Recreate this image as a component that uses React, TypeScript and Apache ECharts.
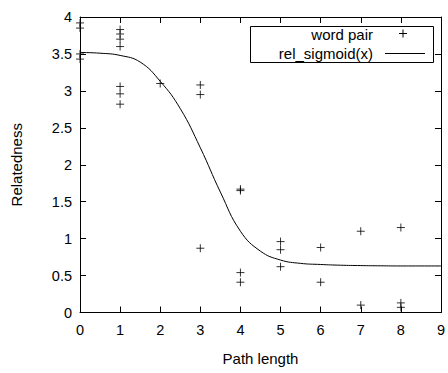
import React, { useEffect, useRef } from "react";
import * as echarts from "echarts";

const pathLength: number[] = [0, 0, 0, 0, 1, 1, 1, 1, 1, 1, 1, 2, 3, 3, 3, 4, 4, 4, 4, 5, 5, 5, 6, 6, 7, 7, 8, 8, 8];
const relatedness: number[] = [3.92, 3.85, 3.5, 3.43, 3.83, 3.77, 3.7, 3.6, 3.06, 2.96, 2.82, 3.1, 3.08, 2.95, 0.87, 1.67, 1.65, 0.54, 0.41, 0.96, 0.85, 0.62, 0.88, 0.41, 1.1, 0.1, 1.15, 0.13, 0.07];

const curveX: number[] = [0, 0.5, 1, 1.5, 2, 2.5, 3, 3.5, 4, 4.5, 5, 5.5, 6, 6.5, 7, 7.5, 8, 8.5, 9];
const curveY: number[] = [3.52, 3.51, 3.48, 3.39, 3.13, 2.76, 2.23, 1.63, 1.1, 0.83, 0.71, 0.665, 0.65, 0.64, 0.635, 0.632, 0.63, 0.63, 0.63];

const xTicks: number[] = [0, 1, 2, 3, 4, 5, 6, 7, 8, 9];
const yTicks: number[] = [0, 0.5, 1, 1.5, 2, 2.5, 3, 3.5, 4];

const seriesNames: string[] = ["word pair", "rel_sigmoid(x)"];

const FONT = "'Liberation Sans', Arial, sans-serif";
const PLUS = "path://M0,5L10,5M5,0L5,10";

export default function App() {
  const ref = useRef<HTMLDivElement>(null);
  useEffect(() => {
    if (!ref.current) return;
    const chart = echarts.init(ref.current, null, { renderer: "svg" });
    const axisLine = { show: true, onZero: false, lineStyle: { color: "#000", width: 1 } };
    const axisTickIn = { show: true, inside: true, length: 6, lineStyle: { color: "#000", width: 1 } };
    chart.setOption({
      animation: false,
      backgroundColor: "#fff",
      grid: { left: 80, right: 6, top: 17, bottom: 60.5 },
      xAxis: [
        {
          type: "value",
          min: xTicks[0],
          max: xTicks[xTicks.length - 1],
          interval: 1,
          axisLine,
          axisTick: axisTickIn,
          splitLine: { show: false },
          axisLabel: { color: "#000", fontSize: 14.5, fontFamily: FONT, margin: 10 },
          name: "Path length",
          nameLocation: "middle",
          nameGap: 38,
          nameTextStyle: { color: "#000", fontSize: 15, fontFamily: FONT },
        },
        {
          type: "value",
          position: "top",
          min: xTicks[0],
          max: xTicks[xTicks.length - 1],
          interval: 1,
          axisLine,
          axisTick: axisTickIn,
          splitLine: { show: false },
          axisLabel: { show: false },
        },
      ],
      yAxis: [
        {
          type: "value",
          min: yTicks[0],
          max: yTicks[yTicks.length - 1],
          interval: 0.5,
          axisLine,
          axisTick: axisTickIn,
          splitLine: { show: false },
          axisLabel: { color: "#000", fontSize: 14.5, fontFamily: FONT, margin: 8 },
          name: "Relatedness",
          nameLocation: "middle",
          nameGap: 56,
          nameTextStyle: { color: "#000", fontSize: 15, fontFamily: FONT },
        },
        {
          type: "value",
          position: "right",
          min: yTicks[0],
          max: yTicks[yTicks.length - 1],
          interval: 0.5,
          axisLine,
          axisTick: axisTickIn,
          splitLine: { show: false },
          axisLabel: { show: false },
        },
      ],
      series: [
        {
          name: seriesNames[0],
          type: "scatter",
          data: pathLength.map((x, i) => [x, relatedness[i]]),
          symbol: PLUS,
          symbolSize: 8,
          itemStyle: { color: "transparent", borderColor: "#000", borderWidth: 1 },
          z: 3,
        },
        {
          name: seriesNames[1],
          type: "line",
          data: curveX.map((x, i) => [x, curveY[i]]),
          smooth: 0.45,
          showSymbol: false,
          symbol: "none",
          lineStyle: { color: "#000", width: 1 },
          z: 2,
        },
      ],
      graphic: [
        {
          type: "rect",
          shape: { x: 250.5, y: 26.5, width: 183, height: 36 },
          style: { fill: "#fff", stroke: "#000", lineWidth: 1 },
          z: 10,
        },
        {
          type: "text",
          x: 373,
          y: 34.5,
          style: { text: seriesNames[0], fill: "#000", font: `15px ${FONT}`, align: "right", verticalAlign: "middle" },
          z: 11,
        },
        {
          type: "text",
          x: 373,
          y: 53,
          style: { text: seriesNames[1], fill: "#000", font: `15px ${FONT}`, align: "right", verticalAlign: "middle" },
          z: 11,
        },
        {
          type: "line",
          shape: { x1: 399, y1: 33.5, x2: 407, y2: 33.5 },
          style: { stroke: "#000", lineWidth: 1 },
          z: 11,
        },
        {
          type: "line",
          shape: { x1: 403, y1: 29.5, x2: 403, y2: 37.5 },
          style: { stroke: "#000", lineWidth: 1 },
          z: 11,
        },
        {
          type: "line",
          shape: { x1: 385, y1: 53.5, x2: 425, y2: 53.5 },
          style: { stroke: "#000", lineWidth: 1 },
          z: 11,
        },
      ],
    });
    return () => chart.dispose();
  }, []);
  return <div ref={ref} style={{ width: 448, height: 373, position: "fixed", left: 0, top: 0 }} />;
}
